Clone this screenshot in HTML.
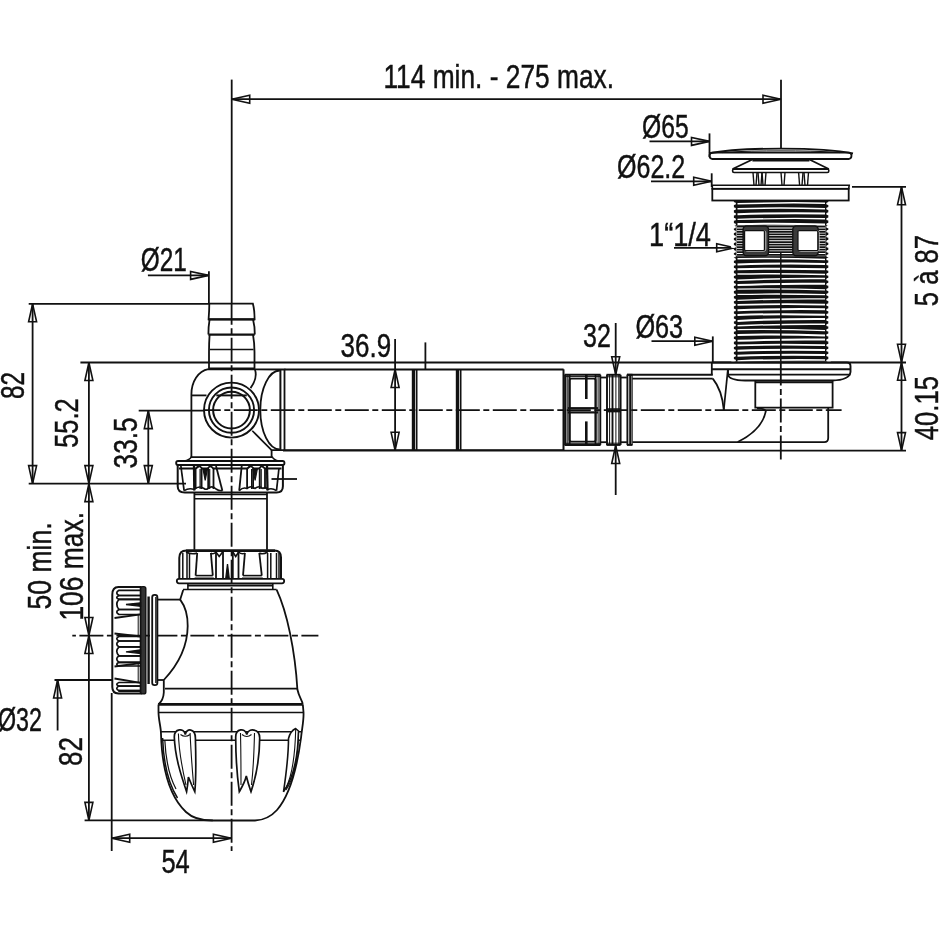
<!DOCTYPE html>
<html><head><meta charset="utf-8"><style>
html,body{margin:0;padding:0;background:#fff;width:940px;height:940px;overflow:hidden}
svg{display:block}
text{font-family:"Liberation Sans",sans-serif;fill:#111;stroke:#111;stroke-width:0.45px}
.tg{opacity:0.999}
</style></head><body>
<svg width="940" height="940" viewBox="0 0 940 940">
<g stroke="#111" fill="none" stroke-linecap="butt">
<line x1="231.7" y1="79.6" x2="231.7" y2="304" stroke-width="1.8" />
<line x1="231.7" y1="99.2" x2="781" y2="99.2" stroke-width="1.8" />
<polygon points="231.7,99.2 249.7,95.2 249.7,103.2" fill="none" stroke-width="1.6" stroke-linejoin="miter"/>
<polygon points="781.0,99.2 763.0,95.2 763.0,103.2" fill="none" stroke-width="1.6" stroke-linejoin="miter"/>
<line x1="781" y1="79.8" x2="781" y2="148.6" stroke-width="1.8" />
<line x1="649.5" y1="141.4" x2="709.5" y2="141.4" stroke-width="1.8" />
<polygon points="709.5,141.4 691.5,137.4 691.5,145.4" fill="none" stroke-width="1.6" stroke-linejoin="miter"/>
<line x1="709.5" y1="133.4" x2="709.5" y2="157" stroke-width="1.8" />
<line x1="651" y1="181.3" x2="711.7" y2="181.3" stroke-width="1.8" />
<polygon points="711.7,181.3 693.7,177.3 693.7,185.3" fill="none" stroke-width="1.6" stroke-linejoin="miter"/>
<line x1="711.7" y1="173.3" x2="711.7" y2="187" stroke-width="1.8" />
<line x1="674" y1="247.8" x2="734.7" y2="247.8" stroke-width="1.8" />
<polygon points="734.7,247.8 716.7,243.8 716.7,251.8" fill="none" stroke-width="1.6" stroke-linejoin="miter"/>
<line x1="852" y1="186.8" x2="906" y2="186.8" stroke-width="1.8" />
<line x1="901.5" y1="186.8" x2="901.5" y2="450.6" stroke-width="1.8" />
<polygon points="901.5,186.8 897.5,204.8 905.5,204.8" fill="none" stroke-width="1.6" stroke-linejoin="miter"/>
<polygon points="901.5,362.3 897.5,344.3 905.5,344.3" fill="none" stroke-width="1.6" stroke-linejoin="miter"/>
<polygon points="901.5,362.3 897.5,380.3 905.5,380.3" fill="none" stroke-width="1.6" stroke-linejoin="miter"/>
<polygon points="901.5,450.6 897.5,432.6 905.5,432.6" fill="none" stroke-width="1.6" stroke-linejoin="miter"/>
<line x1="80.4" y1="362.5" x2="906" y2="362.5" stroke-width="1.8" />
<line x1="283" y1="450.6" x2="906" y2="450.6" stroke-width="1.8" />
<line x1="651.5" y1="341.2" x2="712.8" y2="341.2" stroke-width="1.8" />
<polygon points="712.8,341.2 694.8,337.2 694.8,345.2" fill="none" stroke-width="1.6" stroke-linejoin="miter"/>
<line x1="712.8" y1="336.4" x2="712.8" y2="362.5" stroke-width="1.8" />
<line x1="615.7" y1="323" x2="615.7" y2="374.7" stroke-width="1.8" />
<polygon points="615.7,374.7 611.7,356.7 619.7,356.7" fill="none" stroke-width="1.6" stroke-linejoin="miter"/>
<line x1="615.7" y1="445.5" x2="615.7" y2="495" stroke-width="1.8" />
<polygon points="615.7,445.5 611.7,463.5 619.7,463.5" fill="none" stroke-width="1.6" stroke-linejoin="miter"/>
<line x1="395.1" y1="339" x2="395.1" y2="450.3" stroke-width="1.8" />
<polygon points="395.1,369.5 391.1,387.5 399.1,387.5" fill="none" stroke-width="1.6" stroke-linejoin="miter"/>
<polygon points="395.1,450.3 391.1,432.3 399.1,432.3" fill="none" stroke-width="1.6" stroke-linejoin="miter"/>
<line x1="425.4" y1="342.4" x2="425.4" y2="369.4" stroke-width="1.8" />
<line x1="147.9" y1="275.4" x2="208.6" y2="275.4" stroke-width="1.8" />
<polygon points="208.6,275.4 190.6,271.4 190.6,279.4" fill="none" stroke-width="1.6" stroke-linejoin="miter"/>
<line x1="208.9" y1="271.3" x2="208.9" y2="304" stroke-width="1.8" />
<line x1="28.7" y1="303.8" x2="209" y2="303.8" stroke-width="1.8" />
<line x1="32.6" y1="303.8" x2="32.6" y2="483.6" stroke-width="1.8" />
<polygon points="32.6,303.8 28.6,321.8 36.6,321.8" fill="none" stroke-width="1.6" stroke-linejoin="miter"/>
<polygon points="32.6,483.6 28.6,465.6 36.6,465.6" fill="none" stroke-width="1.6" stroke-linejoin="miter"/>
<line x1="28.7" y1="483.6" x2="186" y2="483.6" stroke-width="1.8" />
<line x1="88.9" y1="362.5" x2="88.9" y2="483.6" stroke-width="1.8" />
<polygon points="88.9,362.5 84.9,380.5 92.9,380.5" fill="none" stroke-width="1.6" stroke-linejoin="miter"/>
<polygon points="88.9,483.6 84.9,465.6 92.9,465.6" fill="none" stroke-width="1.6" stroke-linejoin="miter"/>
<line x1="138.7" y1="410.6" x2="205" y2="410.6" stroke-width="1.8" />
<line x1="148.3" y1="410.6" x2="148.3" y2="483.6" stroke-width="1.8" />
<polygon points="148.3,410.6 144.3,428.6 152.3,428.6" fill="none" stroke-width="1.6" stroke-linejoin="miter"/>
<polygon points="148.3,483.6 144.3,465.6 152.3,465.6" fill="none" stroke-width="1.6" stroke-linejoin="miter"/>
<line x1="88.9" y1="483.6" x2="88.9" y2="820.4" stroke-width="1.8" />
<polygon points="88.9,483.6 84.9,501.6 92.9,501.6" fill="none" stroke-width="1.6" stroke-linejoin="miter"/>
<polygon points="88.9,635.5 84.9,617.5 92.9,617.5" fill="none" stroke-width="1.6" stroke-linejoin="miter"/>
<polygon points="88.9,635.5 84.9,653.5 92.9,653.5" fill="none" stroke-width="1.6" stroke-linejoin="miter"/>
<polygon points="88.9,820.4 84.9,802.4 92.9,802.4" fill="none" stroke-width="1.6" stroke-linejoin="miter"/>
<line x1="84.6" y1="820.4" x2="212.8" y2="820.4" stroke-width="1.8" />
<line x1="54.5" y1="680" x2="112" y2="680" stroke-width="1.8" />
<line x1="57.6" y1="680" x2="57.6" y2="730.5" stroke-width="1.8" />
<polygon points="57.6,680.0 53.6,698.0 61.6,698.0" fill="none" stroke-width="1.6" stroke-linejoin="miter"/>
<line x1="111.7" y1="693" x2="111.7" y2="851" stroke-width="1.8" />
<line x1="111.7" y1="838.2" x2="231.4" y2="838.2" stroke-width="1.8" />
<polygon points="111.7,838.2 129.7,834.2 129.7,842.2" fill="none" stroke-width="1.6" stroke-linejoin="miter"/>
<polygon points="231.4,838.2 213.4,834.2 213.4,842.2" fill="none" stroke-width="1.6" stroke-linejoin="miter"/>
<line x1="271.5" y1="479" x2="297" y2="479" stroke-width="1.8" />
<line x1="231.6" y1="304" x2="231.6" y2="851" stroke-width="1.8" stroke-dasharray="24 3.5 6 3.5" stroke-dashoffset="3.2"/>
<line x1="205" y1="410.2" x2="841.6" y2="410.2" stroke-width="1.8" stroke-dasharray="24 3.5 6 3.5" stroke-dashoffset="8.2"/>
<line x1="72.3" y1="635.7" x2="318.4" y2="635.7" stroke-width="1.8" stroke-dasharray="24 3.5 6 3.5" stroke-dashoffset="29.9"/>
<line x1="780.8" y1="255" x2="780.8" y2="460" stroke-width="1.8" stroke-dasharray="24 3.5 6 3.5" stroke-dashoffset="4.5"/>
<path d="M712,159 L849,159 A3.3,3.3 0 0 0 849,152.6 L712,152.6 A3.3,3.3 0 0 0 712,159 Z" stroke-width="1.8" fill="none" />
<path d="M709,153.5 C730,149 760,148.6 781,148.6 C802,148.6 832,149 853,153.5" stroke-width="1.8" fill="none" />
<path d="M722,152.6 C742,151 762,150.9 781,150.9 C800,150.9 820,151 840,152.6" stroke-width="1.0" fill="none" />
<path d="M752.4,159.5 L732.6,169 L828.8,169 L809.4,159.5" stroke-width="1.8" fill="none" />
<line x1="752.4" y1="160.3" x2="809.4" y2="160.3" stroke-width="2.4" />
<rect x="732.6" y="169" width="96.2" height="3.5" rx="1.5" stroke-width="1.6" fill="none"/>
<line x1="753" y1="172.5" x2="754" y2="185.2" stroke-width="1.4" />
<line x1="757" y1="172.5" x2="756" y2="185.2" stroke-width="1.4" />
<line x1="758" y1="172.5" x2="759" y2="185.2" stroke-width="1.4" />
<line x1="762" y1="172.5" x2="761" y2="185.2" stroke-width="1.4" />
<line x1="762" y1="172.5" x2="763" y2="185.2" stroke-width="1.4" />
<line x1="766" y1="172.5" x2="765" y2="185.2" stroke-width="1.4" />
<line x1="781" y1="172.5" x2="782" y2="185.2" stroke-width="1.4" />
<line x1="785" y1="172.5" x2="784" y2="185.2" stroke-width="1.4" />
<line x1="798.6" y1="172.5" x2="799.6" y2="185.2" stroke-width="1.4" />
<line x1="803" y1="172.5" x2="802" y2="185.2" stroke-width="1.4" />
<line x1="804" y1="172.5" x2="805" y2="185.2" stroke-width="1.4" />
<line x1="808.5" y1="172.5" x2="807.5" y2="185.2" stroke-width="1.4" />
<path d="M712.3,185.2 L849.2,185.2 L848.7,188.8 L712.3,188.8 Z" stroke-width="1.6" fill="none" />
<rect x="712.3" y="188.8" width="136.4" height="11.7" rx="0" stroke-width="1.8" fill="none"/>
<rect x="733.9" y="200.5" width="94.4" height="161" fill="#111" stroke="none"/>
<rect x="736.5" y="225.6" width="89" height="30.6" fill="#fff" stroke="none"/>
<line x1="737" y1="226.7" x2="825.5" y2="226.7" stroke-width="1.75" />
<line x1="737" y1="229.25" x2="825.5" y2="229.25" stroke-width="1.75" />
<line x1="737" y1="231.79999999999998" x2="825.5" y2="231.79999999999998" stroke-width="1.75" />
<line x1="737" y1="234.35" x2="825.5" y2="234.35" stroke-width="1.75" />
<line x1="737" y1="236.89999999999998" x2="825.5" y2="236.89999999999998" stroke-width="1.75" />
<line x1="737" y1="239.45" x2="825.5" y2="239.45" stroke-width="1.75" />
<line x1="737" y1="242.0" x2="825.5" y2="242.0" stroke-width="1.75" />
<line x1="737" y1="244.54999999999998" x2="825.5" y2="244.54999999999998" stroke-width="1.75" />
<line x1="737" y1="247.1" x2="825.5" y2="247.1" stroke-width="1.75" />
<line x1="737" y1="249.64999999999998" x2="825.5" y2="249.64999999999998" stroke-width="1.75" />
<line x1="737" y1="252.2" x2="825.5" y2="252.2" stroke-width="1.75" />
<line x1="737" y1="254.75" x2="825.5" y2="254.75" stroke-width="1.75" />
<path d="M737.5,203.85 Q781,202.30 825,203.15" stroke-width="1.5" fill="none" stroke="#fff"/>
<path d="M737.5,208.69 Q781,207.50 825,208.71" stroke-width="1.5" fill="none" stroke="#fff"/>
<path d="M737.5,214.30 Q781,212.70 825,213.50" stroke-width="2.0" fill="none" stroke="#fff"/>
<path d="M737.5,219.47 Q781,217.90 825,218.73" stroke-width="1.3" fill="none" stroke="#fff"/>
<path d="M737.5,224.11 Q781,223.10 825,224.49" stroke-width="2.0" fill="none" stroke="#fff"/>
<path d="M737.5,258.81 Q781,257.90 825,259.39" stroke-width="1.5" fill="none" stroke="#fff"/>
<path d="M737.5,264.44 Q781,262.97 825,263.90" stroke-width="2.0" fill="none" stroke="#fff"/>
<path d="M737.5,269.28 Q781,268.04 825,269.20" stroke-width="2.0" fill="none" stroke="#fff"/>
<path d="M737.5,274.08 Q781,273.11 825,274.54" stroke-width="1.5" fill="none" stroke="#fff"/>
<path d="M737.5,280.17 Q781,278.18 825,278.59" stroke-width="1.5" fill="none" stroke="#fff"/>
<path d="M737.5,285.04 Q781,283.25 825,283.86" stroke-width="2.0" fill="none" stroke="#fff"/>
<path d="M737.5,289.18 Q781,288.32 825,289.86" stroke-width="1.3" fill="none" stroke="#fff"/>
<path d="M737.5,294.47 Q781,293.39 825,294.71" stroke-width="1.3" fill="none" stroke="#fff"/>
<path d="M737.5,300.38 Q781,298.46 825,298.94" stroke-width="1.3" fill="none" stroke="#fff"/>
<path d="M737.5,304.89 Q781,303.53 825,304.57" stroke-width="1.7" fill="none" stroke="#fff"/>
<path d="M737.5,310.34 Q781,308.60 825,309.26" stroke-width="2.0" fill="none" stroke="#fff"/>
<path d="M737.5,314.90 Q781,313.67 825,314.84" stroke-width="2.0" fill="none" stroke="#fff"/>
<path d="M737.5,320.88 Q781,318.74 825,319.00" stroke-width="2.0" fill="none" stroke="#fff"/>
<path d="M737.5,325.82 Q781,323.81 825,324.20" stroke-width="1.5" fill="none" stroke="#fff"/>
<path d="M737.5,329.54 Q781,328.88 825,330.62" stroke-width="1.3" fill="none" stroke="#fff"/>
<path d="M737.5,334.90 Q781,333.95 825,335.40" stroke-width="2.0" fill="none" stroke="#fff"/>
<path d="M737.5,340.87 Q781,339.02 825,339.57" stroke-width="2.0" fill="none" stroke="#fff"/>
<path d="M737.5,345.36 Q781,344.09 825,345.22" stroke-width="1.7" fill="none" stroke="#fff"/>
<path d="M737.5,350.68 Q781,349.16 825,350.04" stroke-width="2.0" fill="none" stroke="#fff"/>
<path d="M737.5,355.76 Q781,354.23 825,355.10" stroke-width="2.0" fill="none" stroke="#fff"/>
<path d="M737.5,360.99 Q781,359.30 825,360.01" stroke-width="1.7" fill="none" stroke="#fff"/>
<ellipse cx="733.4" cy="203.60" rx="2.6" ry="1.5" fill="#fff" stroke="none"/>
<ellipse cx="828.8" cy="203.40" rx="2.6" ry="1.5" fill="#fff" stroke="none"/>
<ellipse cx="733.4" cy="208.80" rx="2.6" ry="1.5" fill="#fff" stroke="none"/>
<ellipse cx="828.8" cy="208.60" rx="2.6" ry="1.5" fill="#fff" stroke="none"/>
<ellipse cx="733.4" cy="214.00" rx="2.6" ry="1.5" fill="#fff" stroke="none"/>
<ellipse cx="828.8" cy="213.80" rx="2.6" ry="1.5" fill="#fff" stroke="none"/>
<ellipse cx="733.4" cy="219.20" rx="2.6" ry="1.5" fill="#fff" stroke="none"/>
<ellipse cx="828.8" cy="219.00" rx="2.6" ry="1.5" fill="#fff" stroke="none"/>
<ellipse cx="733.4" cy="224.40" rx="2.6" ry="1.5" fill="#fff" stroke="none"/>
<ellipse cx="828.8" cy="224.20" rx="2.6" ry="1.5" fill="#fff" stroke="none"/>
<ellipse cx="733.4" cy="259.20" rx="2.6" ry="1.5" fill="#fff" stroke="none"/>
<ellipse cx="828.8" cy="259.00" rx="2.6" ry="1.5" fill="#fff" stroke="none"/>
<ellipse cx="733.4" cy="264.27" rx="2.6" ry="1.5" fill="#fff" stroke="none"/>
<ellipse cx="828.8" cy="264.07" rx="2.6" ry="1.5" fill="#fff" stroke="none"/>
<ellipse cx="733.4" cy="269.34" rx="2.6" ry="1.5" fill="#fff" stroke="none"/>
<ellipse cx="828.8" cy="269.14" rx="2.6" ry="1.5" fill="#fff" stroke="none"/>
<ellipse cx="733.4" cy="274.41" rx="2.6" ry="1.5" fill="#fff" stroke="none"/>
<ellipse cx="828.8" cy="274.21" rx="2.6" ry="1.5" fill="#fff" stroke="none"/>
<ellipse cx="733.4" cy="279.48" rx="2.6" ry="1.5" fill="#fff" stroke="none"/>
<ellipse cx="828.8" cy="279.28" rx="2.6" ry="1.5" fill="#fff" stroke="none"/>
<ellipse cx="733.4" cy="284.55" rx="2.6" ry="1.5" fill="#fff" stroke="none"/>
<ellipse cx="828.8" cy="284.35" rx="2.6" ry="1.5" fill="#fff" stroke="none"/>
<ellipse cx="733.4" cy="289.62" rx="2.6" ry="1.5" fill="#fff" stroke="none"/>
<ellipse cx="828.8" cy="289.42" rx="2.6" ry="1.5" fill="#fff" stroke="none"/>
<ellipse cx="733.4" cy="294.69" rx="2.6" ry="1.5" fill="#fff" stroke="none"/>
<ellipse cx="828.8" cy="294.49" rx="2.6" ry="1.5" fill="#fff" stroke="none"/>
<ellipse cx="733.4" cy="299.76" rx="2.6" ry="1.5" fill="#fff" stroke="none"/>
<ellipse cx="828.8" cy="299.56" rx="2.6" ry="1.5" fill="#fff" stroke="none"/>
<ellipse cx="733.4" cy="304.83" rx="2.6" ry="1.5" fill="#fff" stroke="none"/>
<ellipse cx="828.8" cy="304.63" rx="2.6" ry="1.5" fill="#fff" stroke="none"/>
<ellipse cx="733.4" cy="309.90" rx="2.6" ry="1.5" fill="#fff" stroke="none"/>
<ellipse cx="828.8" cy="309.70" rx="2.6" ry="1.5" fill="#fff" stroke="none"/>
<ellipse cx="733.4" cy="314.97" rx="2.6" ry="1.5" fill="#fff" stroke="none"/>
<ellipse cx="828.8" cy="314.77" rx="2.6" ry="1.5" fill="#fff" stroke="none"/>
<ellipse cx="733.4" cy="320.04" rx="2.6" ry="1.5" fill="#fff" stroke="none"/>
<ellipse cx="828.8" cy="319.84" rx="2.6" ry="1.5" fill="#fff" stroke="none"/>
<ellipse cx="733.4" cy="325.11" rx="2.6" ry="1.5" fill="#fff" stroke="none"/>
<ellipse cx="828.8" cy="324.91" rx="2.6" ry="1.5" fill="#fff" stroke="none"/>
<ellipse cx="733.4" cy="330.18" rx="2.6" ry="1.5" fill="#fff" stroke="none"/>
<ellipse cx="828.8" cy="329.98" rx="2.6" ry="1.5" fill="#fff" stroke="none"/>
<ellipse cx="733.4" cy="335.25" rx="2.6" ry="1.5" fill="#fff" stroke="none"/>
<ellipse cx="828.8" cy="335.05" rx="2.6" ry="1.5" fill="#fff" stroke="none"/>
<ellipse cx="733.4" cy="340.32" rx="2.6" ry="1.5" fill="#fff" stroke="none"/>
<ellipse cx="828.8" cy="340.12" rx="2.6" ry="1.5" fill="#fff" stroke="none"/>
<ellipse cx="733.4" cy="345.39" rx="2.6" ry="1.5" fill="#fff" stroke="none"/>
<ellipse cx="828.8" cy="345.19" rx="2.6" ry="1.5" fill="#fff" stroke="none"/>
<ellipse cx="733.4" cy="350.46" rx="2.6" ry="1.5" fill="#fff" stroke="none"/>
<ellipse cx="828.8" cy="350.26" rx="2.6" ry="1.5" fill="#fff" stroke="none"/>
<ellipse cx="733.4" cy="355.53" rx="2.6" ry="1.5" fill="#fff" stroke="none"/>
<ellipse cx="828.8" cy="355.33" rx="2.6" ry="1.5" fill="#fff" stroke="none"/>
<ellipse cx="733.4" cy="360.60" rx="2.6" ry="1.5" fill="#fff" stroke="none"/>
<ellipse cx="828.8" cy="360.40" rx="2.6" ry="1.5" fill="#fff" stroke="none"/>
<ellipse cx="733.4" cy="226.90" rx="2.6" ry="1.5" fill="#fff" stroke="none"/>
<ellipse cx="828.8" cy="226.70" rx="2.6" ry="1.5" fill="#fff" stroke="none"/>
<ellipse cx="733.4" cy="231.40" rx="2.6" ry="1.5" fill="#fff" stroke="none"/>
<ellipse cx="828.8" cy="231.20" rx="2.6" ry="1.5" fill="#fff" stroke="none"/>
<ellipse cx="733.4" cy="236.40" rx="2.6" ry="1.5" fill="#fff" stroke="none"/>
<ellipse cx="828.8" cy="236.20" rx="2.6" ry="1.5" fill="#fff" stroke="none"/>
<ellipse cx="733.4" cy="241.40" rx="2.6" ry="1.5" fill="#fff" stroke="none"/>
<ellipse cx="828.8" cy="241.20" rx="2.6" ry="1.5" fill="#fff" stroke="none"/>
<ellipse cx="733.4" cy="246.40" rx="2.6" ry="1.5" fill="#fff" stroke="none"/>
<ellipse cx="828.8" cy="246.20" rx="2.6" ry="1.5" fill="#fff" stroke="none"/>
<ellipse cx="733.4" cy="251.40" rx="2.6" ry="1.5" fill="#fff" stroke="none"/>
<ellipse cx="828.8" cy="251.20" rx="2.6" ry="1.5" fill="#fff" stroke="none"/>
<ellipse cx="733.4" cy="255.90" rx="2.6" ry="1.5" fill="#fff" stroke="none"/>
<ellipse cx="828.8" cy="255.70" rx="2.6" ry="1.5" fill="#fff" stroke="none"/>
<rect x="743.1" y="226" width="25.4" height="29.8" rx="3.5" fill="#3a3a3a" stroke="#111" stroke-width="1.4"/>
<rect x="745.2" y="230.8" width="20.6" height="20.4" rx="2" fill="none" stroke="#bbb" stroke-width="1.0"/>
<rect x="744.6" y="230.6" width="19.8" height="19.9" rx="1" fill="#fff" stroke="#111" stroke-width="1.2"/>
<rect x="792.8" y="226" width="25.4" height="29.8" rx="3.5" fill="#3a3a3a" stroke="#111" stroke-width="1.4"/>
<rect x="798.6" y="230.8" width="20.6" height="20.4" rx="2" fill="none" stroke="#bbb" stroke-width="1.0"/>
<rect x="798.0" y="230.6" width="19.8" height="19.9" rx="1" fill="#fff" stroke="#111" stroke-width="1.2"/>
<line x1="780.8" y1="253" x2="780.8" y2="361.5" stroke-width="1.5" stroke="#111"/>
<path d="M711.8,362.5 L847,362.5 Q850.5,362.5 850.5,366 L850.5,372 Q849.5,380.2 832,380.5 L745,380.5 Q729,380.2 728,374.6 L728,369.6" stroke-width="1.9" fill="none" />
<line x1="711.8" y1="369.2" x2="850.5" y2="369.2" stroke-width="1.9" />
<line x1="728" y1="374.6" x2="850.5" y2="374.6" stroke-width="1.6" />
<line x1="711.8" y1="362.5" x2="711.8" y2="374.8" stroke-width="1.8" />
<path d="M755.3,380.5 L755.3,407.7 L832.6,407.7 L832.6,380.5" stroke-width="1.8" fill="none" />
<line x1="755.3" y1="382.2" x2="832.6" y2="382.2" stroke-width="1.9" />
<path d="M760,442.2 L824.2,442.2 Q828.2,442.2 828.2,438 L828.2,407.7" stroke-width="1.8" fill="none" />
<line x1="626.9" y1="374.8" x2="712.8" y2="374.8" stroke-width="1.9" />
<line x1="632.3" y1="378.6" x2="712.8" y2="378.6" stroke-width="1.8" />
<line x1="632.5" y1="442.2" x2="760" y2="442.2" stroke-width="1.8" />
<path d="M712.8,378.6 Q722,390 723.8,409.8" stroke-width="1.8" fill="none" />
<line x1="727.9" y1="369.2" x2="723.8" y2="409.8" stroke-width="1.7" />
<path d="M757,408.3 Q765.5,408.5 765.8,411.4 Q762,430 737.7,442" stroke-width="1.8" fill="none" />
<line x1="563.5" y1="369.3" x2="563.5" y2="451" stroke-width="2.0" />
<line x1="565.3" y1="374.8" x2="565.3" y2="445" stroke-width="2.4" />
<line x1="564.5" y1="374.8" x2="600.6" y2="374.8" stroke-width="2.0" />
<line x1="564.5" y1="444.9" x2="600.6" y2="444.9" stroke-width="2.0" />
<line x1="606.5" y1="374.8" x2="620.6" y2="374.8" stroke-width="2.0" />
<line x1="606.5" y1="444.9" x2="620.6" y2="444.9" stroke-width="2.0" />
<line x1="626.9" y1="374.8" x2="632.5" y2="374.8" stroke-width="2.0" />
<line x1="626.9" y1="444.9" x2="632.5" y2="444.9" stroke-width="2.0" />
<line x1="600.6" y1="377.5" x2="606.5" y2="377.5" stroke-width="1.8" />
<line x1="600.6" y1="442.2" x2="606.5" y2="442.2" stroke-width="1.8" />
<line x1="620.6" y1="377.5" x2="626.9" y2="377.5" stroke-width="1.8" />
<line x1="620.6" y1="442.2" x2="626.9" y2="442.2" stroke-width="1.8" />
<line x1="566" y1="376.6" x2="600.6" y2="376.6" stroke-width="1.0" />
<line x1="566" y1="443.3" x2="600.6" y2="443.3" stroke-width="1.0" />
<line x1="567.8" y1="374.8" x2="567.8" y2="444.9" stroke-width="1.0" />
<line x1="569.6" y1="374.8" x2="569.6" y2="444.9" stroke-width="1.9" />
<line x1="595.6" y1="374.8" x2="595.6" y2="444.9" stroke-width="1.9" />
<line x1="598.1" y1="374.8" x2="598.1" y2="444.9" stroke-width="1.0" />
<line x1="600.3" y1="374.8" x2="600.3" y2="444.9" stroke-width="1.9" />
<line x1="607" y1="374.8" x2="607" y2="444.9" stroke-width="1.9" />
<line x1="609.6" y1="374.8" x2="609.6" y2="444.9" stroke-width="1.0" />
<line x1="612.5" y1="374.8" x2="612.5" y2="444.9" stroke-width="1.9" />
<line x1="615.9" y1="374.8" x2="615.9" y2="444.9" stroke-width="1.0" />
<line x1="618.9" y1="374.8" x2="618.9" y2="444.9" stroke-width="1.2" />
<line x1="620.6" y1="374.8" x2="620.6" y2="444.9" stroke-width="1.9" />
<line x1="627.4" y1="374.8" x2="627.4" y2="444.9" stroke-width="1.9" />
<line x1="630.3" y1="374.8" x2="630.3" y2="444.9" stroke-width="2.2" />
<line x1="632.2" y1="374.8" x2="632.2" y2="444.9" stroke-width="1.0" />
<path d="M569.6,408 L569.6,380.5 Q569.6,378.6 571.5,378.6 L593.7,378.6 Q595.6,378.6 595.6,380.5 L595.6,408" stroke-width="1.9" fill="none" />
<path d="M569.6,412.5 L569.6,439.7 Q569.6,441.6 571.5,441.6 L593.7,441.6 Q595.6,441.6 595.6,439.7 L595.6,412.5" stroke-width="1.9" fill="none" />
<line x1="567.8" y1="408.2" x2="598" y2="408.2" stroke-width="2.2" />
<line x1="567.8" y1="412.4" x2="598" y2="412.4" stroke-width="2.2" />
<line x1="586.3" y1="374.8" x2="586.3" y2="399" stroke-width="2.6" />
<line x1="586.3" y1="421.4" x2="586.3" y2="444.9" stroke-width="2.6" />
<line x1="607" y1="376.8" x2="620.6" y2="376.8" stroke-width="1.0" />
<line x1="607" y1="443.2" x2="620.6" y2="443.2" stroke-width="1.0" />
<line x1="606.5" y1="409.0" x2="620.6" y2="409.0" stroke-width="1.5" />
<line x1="606.5" y1="411.6" x2="620.6" y2="411.6" stroke-width="1.5" />
<line x1="284.5" y1="369.5" x2="563.6" y2="369.5" stroke-width="1.8" />
<line x1="284.5" y1="450.2" x2="563.6" y2="450.2" stroke-width="1.8" />
<rect x="411.8" y="369.5" width="3.3" height="80.7" fill="#111" stroke="none"/>
<rect x="415.8" y="369.5" width="1.7" height="80.7" fill="#111" stroke="none"/>
<rect x="455.8" y="369.5" width="3.3" height="80.7" fill="#111" stroke="none"/>
<rect x="459.8" y="369.5" width="1.7" height="80.7" fill="#111" stroke="none"/>
<path d="M209.3,303.7 L252.9,303.7 Q254.6,310 254.6,319.3 L208.6,319.3 Q209.3,310 209.3,303.7 Z" stroke-width="1.8" fill="none" />
<path d="M209.6,319.3 Q208.4,326 208.4,334.6 M253,319.3 Q254.8,326 254.8,334.6" stroke-width="1.8" fill="none" />
<line x1="208.4" y1="319.3" x2="254.8" y2="319.3" stroke-width="2.2" />
<line x1="208.4" y1="334.6" x2="254.8" y2="334.6" stroke-width="2.2" />
<path d="M209.6,334.6 Q209,343 209,352 L209,368.7 M253,334.6 Q254.5,343 254.5,352 L254.5,368.7" stroke-width="1.8" fill="none" />
<line x1="210" y1="349.4" x2="253.5" y2="349.4" stroke-width="1.5" />
<line x1="208.9" y1="368.7" x2="254.8" y2="368.7" stroke-width="2.6" />
<path d="M208.4,369.2 C198,371 191.4,382 191.4,394.5 L191.4,457.1 L271.6,457.1 L271.6,450.1 L284.5,450.1 L284.5,369.5 Z" stroke-width="1.8" fill="none" />
<line x1="280.4" y1="369.5" x2="280.4" y2="450.1" stroke-width="2.0" />
<line x1="191.4" y1="395.4" x2="206.5" y2="395.4" stroke-width="1.8" />
<path d="M254.8,369 Q258,378 250.5,388.1" stroke-width="1.8" fill="none" />
<path d="M279.8,370.5 A19.5,39.5 0 0 0 279.8,449.5" stroke-width="1.8" fill="none" />
<line x1="252.3" y1="430.8" x2="271.6" y2="450.1" stroke-width="1.6" />
<circle cx="231.5" cy="410.1" r="27.5" stroke-width="1.9" fill="none"/>
<circle cx="231.5" cy="410.1" r="22.6" stroke-width="1.9" fill="none"/>
<circle cx="231.5" cy="410.1" r="18.4" stroke-width="2.0" fill="none"/>
<line x1="216.3" y1="395.4" x2="246.8" y2="395.4" stroke-width="1.9" />
<path d="M191.5,456.5 Q190,460 184,461 M272.1,456.5 Q273.5,460 279,461" stroke-width="1.6" fill="none" />
<rect x="176.1" y="461" width="108.4" height="4.0" rx="2" stroke-width="1.8" fill="none"/>
<path d="M177.7,465 L177.7,486.3 Q177.7,492.6 184.8,492.6 L276.5,492.6 Q282.9,492.6 282.9,486.3 L282.9,465" stroke-width="2.0" fill="none" />
<line x1="179" y1="468.4" x2="281.5" y2="468.4" stroke-width="2.0" />
<line x1="180.9" y1="466" x2="184.1" y2="490.7" stroke-width="1.7" />
<line x1="279" y1="468" x2="276.5" y2="490.7" stroke-width="1.7" />
<line x1="194" y1="466" x2="194.3" y2="490.5" stroke-width="2.3" />
<line x1="267" y1="466" x2="267.5" y2="490.5" stroke-width="2.3" />
<line x1="216" y1="466" x2="222.4" y2="490.7" stroke-width="1.8" />
<line x1="241.7" y1="466" x2="239.2" y2="490.7" stroke-width="1.8" />
<path d="M195.6,489 L195.6,469 Q198.85,464.5 201.6,468 L201.6,489" stroke-width="1.8" fill="#fff" />
<line x1="200.1" y1="469" x2="200.1" y2="489" stroke-width="1.2" />
<path d="M208.2,489 L208.2,468 Q210.6,464.5 213.5,469 L213.5,489" stroke-width="1.8" fill="#fff" />
<line x1="209.7" y1="469" x2="209.7" y2="489" stroke-width="1.2" />
<path d="M203.0,469 L205.2,480.5 L207.39999999999998,469 Z" stroke-width="1.2" fill="#111" />
<path d="M247.1,489 L247.1,469 Q250.35,464.5 253.1,468 L253.1,489" stroke-width="1.8" fill="#fff" />
<line x1="251.6" y1="469" x2="251.6" y2="489" stroke-width="1.2" />
<path d="M259.7,489 L259.7,468 Q262.1,464.5 265,469 L265,489" stroke-width="1.8" fill="#fff" />
<line x1="261.2" y1="469" x2="261.2" y2="489" stroke-width="1.2" />
<path d="M252.9,469 L255.1,480.5 L257.3,469 Z" stroke-width="1.2" fill="#111" />
<path d="M184.1,490.7 Q189,487.5 194.2,489.5 Q199,485 204,488.5 Q206,490 208,488.5 Q212,485 216,489 Q219,491 222.4,490.7 M239.2,490.7 Q243,487 247,488.5 Q251,485 255,488.5 Q259,485 263,488.5 Q266,486 267.5,489.5 Q272,487.5 276.5,490.7" stroke-width="1.6" fill="none" />
<path d="M194.4,492.1 L194.4,549.8 M267,492.1 L267,549.8" stroke-width="1.8" fill="none" />
<line x1="194.4" y1="494.5" x2="267" y2="494.5" stroke-width="1.5" />
<line x1="194.4" y1="498.8" x2="267" y2="498.8" stroke-width="1.5" />
<path d="M179.3,578.8 L179.3,557.8 Q179.3,550.4 186.5,550.4 L274.5,550.4 Q281,550.4 281,557.5 L281,578.8" stroke-width="2.0" fill="none" />
<line x1="186" y1="550.8" x2="275" y2="550.8" stroke-width="2.6" />
<rect x="176.8" y="578.8" width="107.4" height="4.5" rx="2.2" stroke-width="1.8" fill="none"/>
<line x1="182.8" y1="553" x2="182.8" y2="578" stroke-width="1.5" />
<line x1="187" y1="553" x2="187" y2="578" stroke-width="1.5" />
<line x1="189.5" y1="553" x2="189.5" y2="578" stroke-width="1.5" />
<line x1="267.6" y1="553" x2="267.6" y2="578" stroke-width="1.5" />
<line x1="270.8" y1="553" x2="270.8" y2="578" stroke-width="1.5" />
<line x1="276.5" y1="553" x2="276.5" y2="578" stroke-width="1.5" />
<line x1="279" y1="553" x2="279" y2="578" stroke-width="1.5" />
<line x1="197.2" y1="553" x2="195.6" y2="575.6" stroke-width="1.8" />
<line x1="210.9" y1="553" x2="212.8" y2="575.6" stroke-width="1.8" />
<line x1="195.6" y1="575.6" x2="212.8" y2="575.6" stroke-width="1.6" />
<line x1="194.6" y1="578.2" x2="213.8" y2="578.2" stroke-width="1.4" />
<line x1="244.9" y1="553" x2="243" y2="575.6" stroke-width="1.8" />
<line x1="259.3" y1="553" x2="261.8" y2="575.6" stroke-width="1.8" />
<line x1="243" y1="575.6" x2="261.8" y2="575.6" stroke-width="1.6" />
<line x1="242" y1="578.2" x2="262.8" y2="578.2" stroke-width="1.4" />
<line x1="216" y1="552" x2="216" y2="578" stroke-width="1.8" />
<line x1="223" y1="552" x2="223" y2="578" stroke-width="1.8" />
<line x1="232.8" y1="552" x2="232.8" y2="578" stroke-width="1.8" />
<line x1="238.5" y1="552" x2="238.5" y2="578" stroke-width="1.8" />
<path d="M215.5,551.5 L219.2,556.5 L223,551.5 M232.5,551.5 L235.7,556.5 L239,551.5" stroke-width="1.6" fill="none" />
<path d="M225.8,578 L227.5,564 L229.2,578 Z" stroke-width="1.3" fill="#111" />
<path d="M186,552 Q192,555 197.2,553 M210.9,553 Q213,555 216,552 M238.5,552 Q242,555 244.9,553 M259.3,553 Q263,555 267.6,552" stroke-width="1.5" fill="none" />
<path d="M187.9,583.4 L187.9,589.2 M272.8,583.4 L272.8,589.2" stroke-width="1.6" fill="none" />
<line x1="187.9" y1="585.5" x2="272.8" y2="585.5" stroke-width="2.2" />
<line x1="183" y1="589.5" x2="276.6" y2="589.5" stroke-width="1.6" />
<path d="M183.2,589.9 L180.2,599.6 C185,606 187.8,616 187.7,626 C187.5,648 176,667 163.8,680 L163.8,692.5 Q163.5,700 158.4,704.4" stroke-width="1.8" fill="none" />
<path d="M276.6,589.7 C287,612 295,650 297.4,689.5 C299,697 302,700 302.7,704" stroke-width="1.8" fill="none" />
<line x1="165" y1="688.6" x2="297.4" y2="688.6" stroke-width="1.6" />
<line x1="158.2" y1="704.4" x2="302.8" y2="704.4" stroke-width="2.6" />
<line x1="158.5" y1="712.5" x2="303.5" y2="712.5" stroke-width="1.6" />
<path d="M158.5,704.4 L158.5,712 C158.5,720 161,727 161,734 C162,768 170,797 186,812 Q195,820.5 212,820.5 L255,820.5 Q268,820 277,810 C290,795 297,768 301,738 C302,728 304,720 303.5,712 L302.8,704.4" stroke-width="1.8" fill="none" />
<line x1="160" y1="731.7" x2="301" y2="731.7" stroke-width="1.6" />
<line x1="161" y1="740.2" x2="300" y2="740.2" stroke-width="1.6" />
<path d="M174.3,737 C174.3,728.5 184,727.5 185.3,734.5 C186.5,727.5 195.4,728.5 195.4,738 C196,760 196,780 194.8,791.7 C192,786 190,781 188.4,777 C188,782 187.5,787 186.6,791.7 C181,775 175,757 174.3,737 Z" stroke-width="1.7" fill="#fff" />
<path d="M178.4,733.5 C179,755 183,772 186,785 M190.1,733 C191,755 192.5,772 193.6,785 M180.5,734.5 Q185.3,738 190,734.5" stroke-width="1.1" fill="none" />
<path d="M235.7,737 C235.7,728.5 245,727.5 246.8,734.5 C248.5,727.5 259.7,728.5 259.7,738 C259.5,760 255,780 251,791.7 C249,786 247.5,781 246.3,776 C245,782 242,787 239.3,791.7 C237,775 235.7,757 235.7,737 Z" stroke-width="1.7" fill="#fff" />
<path d="M240.5,733 C241,755 241,772 241,785 M254.5,733 C254,755 253,772 251.5,785 M242,734.5 Q246.8,738.5 251.5,734.5" stroke-width="1.1" fill="none" />
<path d="M288.5,738.5 Q290.5,731 295.7,728.6 L298.5,731 C298,760 292,780 283.5,791.9 C286,775 288.5,755 288.5,738.5 Z" stroke-width="1.6" fill="#fff" />
<path d="M295.7,729 C295,760 291,778 285.8,788.2 M298.5,733 C298,760 293,780 286,790" stroke-width="1.1" fill="none" />
<path d="M162.6,738 C163.5,762 168,783 177.5,798" stroke-width="1.5" fill="none" />
<path d="M164.8,740 C165.8,760 169.5,777 176,789" stroke-width="1.2" fill="none" />
<path d="M118.4,587.1 L140.7,587.1 L140.7,693.4 L118.4,693.4 Q112.3,693.4 112.3,687 L112.3,594.8 Q112.3,587.1 118.4,587.1 Z" stroke-width="2.0" fill="none" />
<rect x="140.7" y="586.6" width="5.1" height="107.3" rx="2" fill="#333" stroke="#111" stroke-width="1.4"/>
<line x1="148.6" y1="596.5" x2="148.6" y2="684" stroke-width="2.4" />
<rect x="152.2" y="594.8" width="5.2" height="90.3" rx="2.4" fill="#fff" stroke="#111" stroke-width="1.8"/>
<line x1="155.9" y1="597" x2="155.9" y2="683" stroke-width="1.4" />
<line x1="157.4" y1="599.6" x2="180.2" y2="599.6" stroke-width="1.8" />
<line x1="157.4" y1="680" x2="163.8" y2="680" stroke-width="1.8" />
<path d="M140.7,590.3 L119,590.3 Q114.5,592.90 119,595.5 L140.7,595.5" stroke-width="1.7" fill="none" />
<path d="M140.7,595.5 L119,595.5 Q114.5,597.40 119,599.3 L140.7,599.3" stroke-width="1.7" fill="none" />
<path d="M140.7,599.3 L119,599.3 Q114.5,604.40 119,609.5 L140.7,609.5" stroke-width="1.7" fill="none" />
<path d="M140.7,609.5 L119,609.5 Q114.5,612.00 119,614.5 L140.7,614.5" stroke-width="1.7" fill="none" />
<path d="M140.7,636.5 L119,636.5 Q114.5,638.75 119,641 L140.7,641" stroke-width="1.7" fill="none" />
<path d="M140.7,641 L119,641 Q114.5,643.95 119,646.9 L140.7,646.9" stroke-width="1.7" fill="none" />
<path d="M140.7,646.9 L119,646.9 Q114.5,651.35 119,655.8 L140.7,655.8" stroke-width="1.7" fill="none" />
<path d="M140.7,655.8 L119,655.8 Q114.5,659.10 119,662.4 L140.7,662.4" stroke-width="1.7" fill="none" />
<path d="M140.7,662.4 L119,662.4 Q114.5,664.20 119,666 L140.7,666" stroke-width="1.7" fill="none" />
<path d="M140.7,682.5 L119,682.5 Q114.5,684.30 119,686.1 L140.7,686.1" stroke-width="1.7" fill="none" />
<path d="M140.7,686.1 L119,686.1 Q114.5,688.45 119,690.8 L140.7,690.8" stroke-width="1.7" fill="none" />
<path d="M114.5,618 L140.7,614.3 M114.5,633.5 L140.7,636.5 M114.5,666.5 L140.7,663.2 M114.5,678.5 L140.7,682.8" stroke-width="1.8" fill="none" />
<line x1="138.2" y1="614.5" x2="138.2" y2="636" stroke-width="1.0" />
<line x1="138.2" y1="663.5" x2="138.2" y2="682.5" stroke-width="1.0" />
<path d="M140.5,602.8 L126,604.5 L140.5,606.3 Z M140.5,650 L126,651.8 L140.5,653.6 Z" stroke-width="1.3" fill="#111" />
<line x1="118.4" y1="690.8" x2="140.7" y2="690.8" stroke-width="2.4" />
</g>
<g class="tg">
<text x="383.4" y="88.15" font-size="32.5" textLength="230.6" lengthAdjust="spacingAndGlyphs">114 min. - 275 max.</text>
<text x="642.0" y="137.85" font-size="32.5" textLength="46.6" lengthAdjust="spacingAndGlyphs">Ø65</text>
<text x="617.0" y="177.9" font-size="32.5" textLength="68.2" lengthAdjust="spacingAndGlyphs">Ø62.2</text>
<text x="649.0" y="245.9" font-size="32.5" textLength="62.0" lengthAdjust="spacingAndGlyphs">1“1/4</text>
<text x="140.8" y="271.15" font-size="32.5" textLength="46.0" lengthAdjust="spacingAndGlyphs">Ø21</text>
<text x="340.6" y="356.75" font-size="32.5" textLength="50.6" lengthAdjust="spacingAndGlyphs">36.9</text>
<text x="583.0" y="347.3" font-size="32.5" textLength="27.8" lengthAdjust="spacingAndGlyphs">32</text>
<text x="635.4" y="337.65" font-size="32.5" textLength="47.8" lengthAdjust="spacingAndGlyphs">Ø63</text>
<text x="-2.0" y="730.6" font-size="32.5" textLength="44.0" lengthAdjust="spacingAndGlyphs">Ø32</text>
<text x="161.4" y="872.8" font-size="32.5" textLength="28.4" lengthAdjust="spacingAndGlyphs">54</text>
<text transform="translate(24.25,399.0) rotate(-90)" font-size="32.5" textLength="27.0" lengthAdjust="spacingAndGlyphs">82</text>
<text transform="translate(78.35,447.8) rotate(-90)" font-size="32.5" textLength="49.6" lengthAdjust="spacingAndGlyphs">55.2</text>
<text transform="translate(136.7,468.4) rotate(-90)" font-size="32.5" textLength="51.0" lengthAdjust="spacingAndGlyphs">33.5</text>
<text transform="translate(51.45,609.4) rotate(-90)" font-size="32.5" textLength="87.0" lengthAdjust="spacingAndGlyphs">50 min.</text>
<text transform="translate(82.8,620.6) rotate(-90)" font-size="32.5" textLength="108.6" lengthAdjust="spacingAndGlyphs">106 max.</text>
<text transform="translate(82.35,766.0) rotate(-90)" font-size="32.5" textLength="29.0" lengthAdjust="spacingAndGlyphs">82</text>
<text transform="translate(938.05,306.2) rotate(-90)" font-size="32.5" textLength="71.2" lengthAdjust="spacingAndGlyphs">5 à 87</text>
<text transform="translate(938.1,440.2) rotate(-90)" font-size="32.5" textLength="64.2" lengthAdjust="spacingAndGlyphs">40.15</text>
</g>
</svg>
</body></html>
